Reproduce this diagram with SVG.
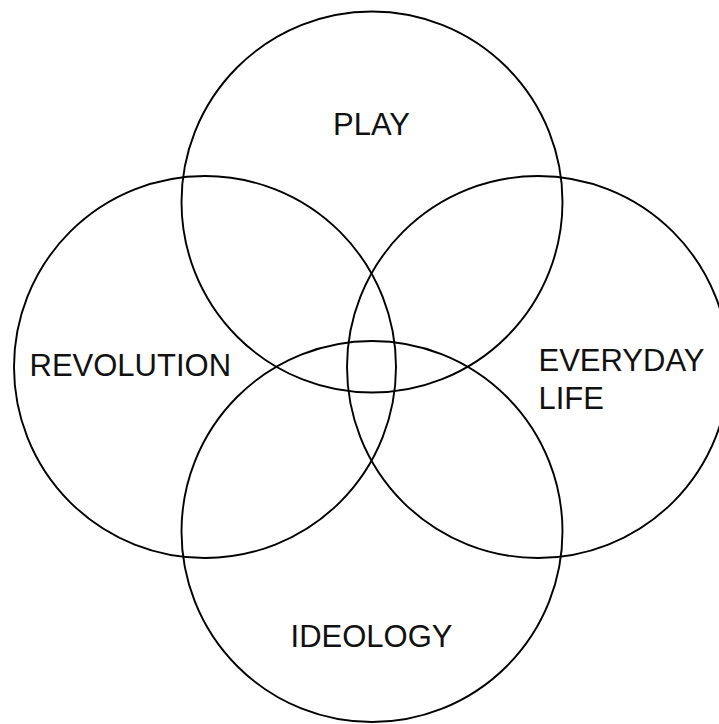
<svg xmlns="http://www.w3.org/2000/svg" width="719" height="724" viewBox="0 0 719 724">
<style>
.c{fill:none;stroke:#000;stroke-width:1.9}
.t{font-family:"Liberation Sans",Arial,sans-serif;font-size:31px;fill:#111}
</style>
<rect width="719" height="724" fill="#fff"/>
<g id="play">
<circle class="c" cx="372" cy="202" r="190.5"/>
<text class="t" x="371.5" y="135" text-anchor="middle">PLAY</text>
</g>
<g id="revolution">
<circle class="c" cx="205" cy="367" r="191"/>
<text class="t" x="29.5" y="376">REVOLUTION</text>
</g>
<g id="everyday-life">
<circle class="c" cx="538" cy="367" r="191"/>
<text class="t" x="538.5" y="370.5">EVERYDAY</text>
<text class="t" x="538.5" y="409">LIFE</text>
</g>
<g id="ideology">
<circle class="c" cx="372" cy="531.5" r="190.5"/>
<text class="t" x="371.5" y="647" text-anchor="middle">IDEOLOGY</text>
</g>
<g id="connectors"></g>
</svg>
